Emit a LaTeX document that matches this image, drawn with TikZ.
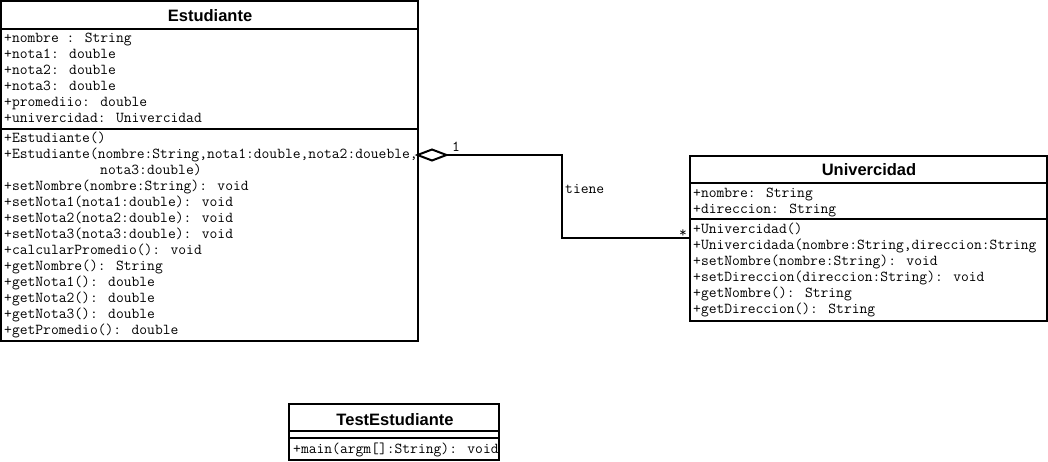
\documentclass[tikz,border=0pt]{standalone}
\usepackage{fontspec}
\setmainfont{Liberation Sans}
\tikzset{
  box/.style={draw=black, line width=2pt, inner sep=0pt, outer sep=0pt},
  sep/.style={line width=2pt},
  conn/.style={line width=2pt, line join=miter},
  mono/.style={anchor=base west, inner sep=0pt, font=\ttfamily\fontsize{15.15}{16}\selectfont},
  ttl/.style={anchor=base, inner sep=0pt, font=\bfseries\fontsize{16.5}{20}\selectfont},
}
\begin{document}
\begin{tikzpicture}[x=1pt,y=-1pt]
\useasboundingbox (0,0) rectangle (1048,461);
\fill[white] (0,0) rectangle (1048,461);

% ---------------- Estudiante ----------------
\node[box, minimum width=416.5pt, minimum height=340pt] (est) at (209.25,171) {};
\draw[sep] (1,29) -- (417.5,29);
\draw[sep] (1,129) -- (417.5,129);
\node[ttl] (estT) at (210,21) {Estudiante};
\node[mono] (ea1) at (4,42) {+nombre : String};
\node[mono] (ea2) at (4,58) {+nota1: double};
\node[mono] (ea3) at (4,74) {+nota2: double};
\node[mono] (ea4) at (4,90) {+nota3: double};
\node[mono] (ea5) at (4,106) {+promediio: double};
\node[mono] (ea6) at (4,122) {+univercidad: Univercidad};
\node[mono] (em1) at (4,142) {+Estudiante()};
\node[mono] (em2) at (4,158) {+Estudiante(nombre:String,nota1:double,nota2:doueble,};
\node[mono] (em3) at (100,174) {nota3:double)};
\node[mono] (em4) at (4,190) {+setNombre(nombre:String): void};
\node[mono] (em5) at (4,206) {+setNota1(nota1:double): void};
\node[mono] (em6) at (4,222) {+setNota2(nota2:double): void};
\node[mono] (em7) at (4,238) {+setNota3(nota3:double): void};
\node[mono] (em8) at (4,254) {+calcularPromedio(): void};
\node[mono] (em9) at (4,270) {+getNombre(): String};
\node[mono] (em10) at (4,286) {+getNota1(): double};
\node[mono] (em11) at (4,302) {+getNota2(): double};
\node[mono] (em12) at (4,318) {+getNota3(): double};
\node[mono] (em13) at (4,334) {+getPromedio(): double};

% ---------------- Univercidad ----------------
\node[box, minimum width=357pt, minimum height=165.5pt] (uni) at (868.5,238.25) {};
\draw[sep] (690,183) -- (1047,183);
\draw[sep] (690,219) -- (1047,219);
\node[ttl] (uniT) at (869,175) {Univercidad};
\node[mono] (ua1) at (693,197) {+nombre: String};
\node[mono] (ua2) at (693,213) {+direccion: String};
\node[mono] (um1) at (693,233) {+Univercidad()};
\node[mono] (um2) at (693,249) {+Univercidada(nombre:String,direccion:String};
\node[mono] (um3) at (693,265) {+setNombre(nombre:String): void};
\node[mono] (um4) at (693,281) {+setDireccion(direccion:String): void};
\node[mono] (um5) at (693,297) {+getNombre(): String};
\node[mono] (um6) at (693,313) {+getDireccion(): String};

% ---------------- TestEstudiante ----------------
\begin{scope}
  \clip (288.5,404) rectangle (497.5,460);
  \node[mono] (tm1) at (293,453) {+main(argm[]:String): void};
\end{scope}
\node[box, minimum width=210pt, minimum height=55.5pt] (test) at (393.5,431.75) {};
\draw[sep] (288.5,430.5) -- (498.5,430.5);
\draw[sep] (288.5,438) -- (498.5,438);
\node[ttl] (testT) at (395,425) {TestEstudiante};

% ---------------- Aggregation ----------------
\coordinate (dL) at (est.east |- 0,155);
\coordinate (dR) at (446.5,155);
\coordinate (k2) at (562,238);
\coordinate (uL) at (uni.west |- 0,238);
\draw[conn] (dR) -| (k2) -- (uL);
\draw[conn, fill=white] (dL) -- ++(14.5,-5.5) -- (dR) -- ++(-14.5,5.5) -- cycle;
\node[mono] (m1) at (452,151) {1};
\node[mono] (lbl) at (565,193) {tiene};
\node[mono] (m2) at (679,237) {*};
\end{tikzpicture}
\end{document}
